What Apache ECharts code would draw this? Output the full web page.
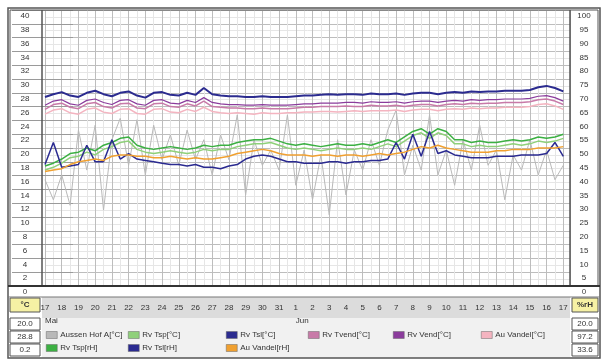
<!DOCTYPE html>
<html>
<head>
<meta charset="utf-8">
<script src="https://cdn.jsdelivr.net/npm/echarts@6/dist/echarts.min.js"></script>
<style>html,body{margin:0;padding:0;background:#fff}#c{width:604px;height:362px}</style>
</head>
<body>
<div id="c"></div>
<script>
// ---- data ----
const dayLabels = ['17','18','19','20','21','22','23','24','25','26','27','28','29','30','31','1','2','3','4','5','6','7','8','9','10','11','12','13','14','15','16','17'];
const monthNames = ['Mai','Jun'];
const monthStart = [0, 15];
const leftTicks = {min:0, max:40, step:2};
const rightTicks = {min:0, max:100, step:5};
const sideLeft = ['20.0','28.8','0.2'];
const sideRight = ['20.0','97.2','33.6'];

// sample times: half-day steps, days since 17 May
const times = Array.from({length:63}, (_, i) => i * 0.5);

const aussenC = [15.4,12.5,16.1,11.7,22.6,16.8,23.3,11.0,21.2,24.3,17.5,24.1,16.1,23.3,18.3,21.9,17.5,22.6,18.3,21.2,16.1,21.9,18.3,24.8,13.2,21.2,17.5,19.7,16.8,24.8,14.6,19.7,12.5,19.0,10.3,21.2,13.2,19.7,16.8,21.2,17.5,22.6,25.5,16.1,20.4,16.8,24.8,16.1,19.7,14.6,21.2,16.8,23.3,17.5,19.7,12.5,19.0,16.8,21.2,16.1,19.7,15.4,17.5];
const tspC = [16.8,17.2,17.8,18.6,18.8,19.4,19.0,19.8,20.2,20.8,21.0,19.8,19.4,19.2,19.4,19.6,19.4,19.2,19.4,19.8,19.6,19.8,19.8,20.2,20.4,20.6,20.6,20.8,20.4,20.0,19.8,20.0,19.8,19.6,19.8,20.0,19.8,19.8,20.0,19.8,20.2,20.6,20.2,21.0,21.8,22.2,21.4,22.2,21.8,20.6,20.6,20.2,20.4,20.2,20.2,20.4,20.6,20.4,20.6,21.0,20.8,21.0,21.4];
const tslC = [27.4,27.8,28.1,27.6,27.4,28.0,28.3,27.8,27.5,28.0,28.2,27.6,27.3,28.0,28.1,27.7,27.6,28.0,27.7,28.7,27.8,27.6,27.5,27.5,27.4,27.4,27.5,27.4,27.4,27.4,27.5,27.6,27.6,27.7,27.8,27.7,27.8,27.8,27.7,27.9,27.8,27.8,27.9,27.7,27.9,28.0,28.0,27.8,28.0,28.1,28.0,28.2,28.1,28.2,28.2,28.3,28.3,28.3,28.4,28.8,29.0,28.7,28.2];
const tvendC = [25.6,26.3,26.5,25.9,25.7,26.4,26.6,26.0,25.8,26.4,26.5,25.8,25.7,26.4,26.5,26.0,25.9,26.4,26.1,26.8,26.0,25.9,25.8,25.8,25.7,25.7,25.8,25.7,25.7,25.7,25.8,25.9,25.9,26.0,26.0,26.0,26.1,26.0,26.0,26.2,26.1,26.1,26.2,26.0,26.2,26.3,26.3,26.1,26.3,26.4,26.3,26.5,26.4,26.5,26.5,26.6,26.6,26.6,26.7,27.0,27.1,26.8,26.3];
const vendC = [26.2,26.8,27.0,26.4,26.2,26.9,27.1,26.6,26.3,26.9,27.0,26.4,26.2,26.9,27.0,26.5,26.4,26.9,26.6,27.3,26.6,26.4,26.3,26.3,26.2,26.2,26.3,26.2,26.2,26.2,26.3,26.4,26.4,26.5,26.5,26.5,26.6,26.6,26.5,26.7,26.6,26.6,26.7,26.5,26.7,26.8,26.8,26.6,26.8,26.9,26.8,27.0,26.9,27.0,27.0,27.1,27.1,27.1,27.2,27.5,27.6,27.3,26.8];
const vandelC = [24.9,25.5,25.7,25.1,24.9,25.6,25.8,25.2,25.0,25.6,25.7,25.0,24.9,25.6,25.7,25.2,25.1,25.6,25.3,25.9,25.3,25.1,25.0,25.1,25.0,24.9,25.1,25.0,25.0,25.1,25.1,25.2,25.2,25.3,25.3,25.2,25.3,25.4,25.3,25.4,25.4,25.4,25.5,25.3,25.5,25.6,25.6,25.4,25.6,25.7,25.6,25.8,25.7,25.8,25.8,25.9,25.9,25.9,26.0,26.3,26.4,26.1,25.6];
const tspRH = [43.5,44.5,46,48,48.5,50,49,51,52,53.5,54,51,50,49.5,50,50.5,50,49.5,50,51,50.5,51,51,52,52.5,53,53,53.5,52.5,51.5,51,51.5,51,50.5,51,51.5,51,51,51.5,51,52,53,52,54,56,57,55,57,56,53,53,52,52.5,52,52,52.5,53,52.5,53,54,53.5,54,55];
const tslRH = [44,52,43,43.5,44,51,45,45,53,46,48,46,45.5,45,44.5,44,44,43.5,44,43,43,42.5,43.5,44,46,47,47.5,47,46,45,45,44.5,44.5,44.5,45,45,44.5,45,45,45.5,45.5,46,52,46,55,47,56,48,49,47.5,47,46.5,46.5,46.5,47,47,47,47.5,47.5,47.5,48,52,47];
const vandelRH = [41.5,42,42.5,44,45,45.5,46,45.5,47,47.5,47.5,47,47,46.5,46.5,47,46.5,46,46.5,46,46,46.5,47,48,48.5,49,49.5,49,48,47.5,47.5,47.5,47,47.5,47.5,47,47.5,47.5,47,47.5,48,47.5,48,48.5,49.5,50.5,50,51,50,49.5,49,48.5,48.5,48.5,49,49,49.5,49.5,49.5,50,50,50,50.5];

const seriesDefs = [
  {name:'Aussen Hof A[°C]', data:aussenC, color:'#b9b9b9', axis:0, w:1},
  {name:'Rv Tsp[°C]', data:tspC, color:'#8fd07a', axis:0, w:1.5},
  {name:'Rv Tsl[°C]', data:tslC, color:'#2b2b8f', axis:0, w:2},
  {name:'Rv Tvend[°C]', data:tvendC, color:'#c87aa8', axis:0, w:1.5},
  {name:'Rv Vend[°C]', data:vendC, color:'#8b3c9c', axis:0, w:1.2},
  {name:'Au Vandel[°C]', data:vandelC, color:'#f4b4c0', axis:0, w:1.5},
  {name:'Rv Tsp[rH]', data:tspRH, color:'#3cb043', axis:1, w:1.5},
  {name:'Rv Tsl[rH]', data:tslRH, color:'#2a2a90', axis:1, w:1.5},
  {name:'Au Vandel[rH]', data:vandelRH, color:'#f0a030', axis:1, w:1.5}
];
// legend grid: [name, column left, row]
const legendCells = [
  ['Aussen Hof A[°C]', 46, 0], ['Rv Tsp[°C]', 128, 0], ['Rv Tsl[°C]', 226, 0],
  ['Rv Tvend[°C]', 308, 0], ['Rv Vend[°C]', 393, 0], ['Au Vandel[°C]', 481, 0],
  ['Rv Tsp[rH]', 46, 1], ['Rv Tsl[rH]', 128, 1], ['Au Vandel[rH]', 226, 1]
];

// ---- chart ----
const FONT = 'Liberation Sans, Arial, sans-serif';
const chart = echarts.init(document.getElementById('c'), null, {renderer:'canvas'});

const G_LEFT = 45, G_RIGHT = 34, G_TOP = 10, G_BOTTOM = 76;

function boxText(x, y, w, h, txt, fill, bold) {
  return [
    {type:'rect', shape:{x, y, width:w, height:h}, style:{fill, stroke:'#555', lineWidth:1}, z:50},
    {type:'text', x: x + w/2, y: y + h/2, style:{text:txt, fill:'#333', font:(bold?'bold ':'') + '8px ' + FONT, textAlign:'center', textVerticalAlign:'middle'}, z:51}
  ];
}

const graphics = [
  {type:'rect', shape:{x:42, y:297, width:528, height:21}, style:{fill:'#dcdcdc'}, z:-10},
  {type:'rect', shape:{x:42, y:318, width:528, height:40}, style:{fill:'#f1f1f1'}, z:-10},
  {type:'rect', shape:{x:42, y:10, width:528, height:276}, style:{fill:'none', stroke:'#555', lineWidth:1}, z:60},
  {type:'rect', shape:{x:8, y:8, width:592, height:350}, style:{fill:'none', stroke:'#555', lineWidth:1.5}, z:60},
  {type:'rect', shape:{x:10, y:10, width:32, height:276}, style:{fill:'none', stroke:'#555', lineWidth:1}, z:60},
  {type:'rect', shape:{x:570, y:10, width:28, height:276}, style:{fill:'none', stroke:'#555', lineWidth:1}, z:60},
  {type:'line', shape:{x1:8, y1:286, x2:600, y2:286}, style:{stroke:'#333', lineWidth:2}, z:60},
  {type:'line', shape:{x1:8, y1:297, x2:600, y2:297}, style:{stroke:'#777', lineWidth:1}, z:60},
  {type:'text', x:25, y:291.5, style:{text:'0', fill:'#444', font:'8px ' + FONT, textAlign:'center', textVerticalAlign:'middle'}, z:61},
  {type:'text', x:584, y:291.5, style:{text:'0', fill:'#444', font:'8px ' + FONT, textAlign:'center', textVerticalAlign:'middle'}, z:61},
  ...boxText(10, 298, 30, 14, '°C', '#f6f1a4', true),
  ...boxText(572, 298, 26, 14, '%rH', '#f6f1a4', true),
  ...sideLeft.flatMap((t, i) => boxText(10, 318 + i*13, 30, 12, t, '#fff', false)),
  ...sideRight.flatMap((t, i) => boxText(572, 318 + i*13, 26, 12, t, '#fff', false))
];

const option = {
  animation: false,
  backgroundColor: '#fff',
  textStyle: {fontFamily: FONT},
  grid: {left:G_LEFT, right:G_RIGHT, top:G_TOP, bottom:G_BOTTOM, containLabel:false},
  xAxis: [
    {
      type:'value', min:0, max:31.4, interval:1,
      axisLine:{show:false}, axisTick:{show:false},
      axisLabel:{margin:18, fontSize:8, color:'#333', showMaxLabel:false,
        formatter: v => dayLabels[Math.round(v)] ?? ''},
      splitLine:{show:true, lineStyle:{color:'#bdbdbd', width:1}},
      minorTick:{show:false, splitNumber:2},
      minorSplitLine:{show:true, lineStyle:{color:'#e6e6e6', width:1}}
    },
    {
      type:'value', min:0, max:31.4, interval:1, position:'bottom', offset:13,
      axisLine:{show:false}, axisTick:{show:false}, splitLine:{show:false},
      axisLabel:{margin:18, fontSize:8, color:'#333', align:'left', showMaxLabel:false,
        formatter: v => { const k = monthStart.indexOf(Math.round(v)); return k >= 0 ? monthNames[k] : ''; }}
    }
  ],
  yAxis: [
    {
      type:'value', position:'left', min:leftTicks.min, max:leftTicks.max, interval:leftTicks.step,
      axisLine:{show:false},
      axisTick:{show:true, inside:false, length:33, lineStyle:{color:'#9a9a9a'}},
      axisLabel:{margin:20, fontSize:8, color:'#333', align:'center', verticalAlign:'top', padding:[2,0,0,0], showMinLabel:false},
      splitLine:{show:true, lineStyle:{color:'#bdbdbd', width:1}},
      minorSplitLine:{show:true, lineStyle:{color:'#e6e6e6'}},
      minorTick:{show:false, splitNumber:2}
    },
    {
      type:'value', position:'right', min:rightTicks.min, max:rightTicks.max, interval:rightTicks.step,
      axisLine:{show:false},
      axisTick:{show:true, inside:false, length:28, lineStyle:{color:'#9a9a9a'}},
      axisLabel:{margin:14, fontSize:8, color:'#333', align:'center', verticalAlign:'top', padding:[2,0,0,0], showMinLabel:false},
      splitLine:{show:false}
    }
  ],
  legend: legendCells.map(([name, left, row]) => ({
    orient:'horizontal', left:left, top:331 + row*13, itemWidth:11, itemHeight:7, icon:'rect',
    data:[name], selectedMode:false, padding:0,
    itemStyle:{borderColor:'#666', borderWidth:0.5},
    textStyle:{fontSize:8, color:'#333', padding:[0,0,0,-2]}
  })),
  series: seriesDefs.map(s => ({
    type:'line', name:s.name, yAxisIndex:s.axis, xAxisIndex:0,
    data: times.map((t, i) => [t, s.data[i]]),
    showSymbol:false, symbol:'none',
    lineStyle:{color:s.color, width:s.w},
    itemStyle:{color:s.color},
    z: s.name.startsWith('Aussen') ? 1 : 2
  })),
  graphic: graphics
};
chart.setOption(option);
</script>
</body>
</html>
